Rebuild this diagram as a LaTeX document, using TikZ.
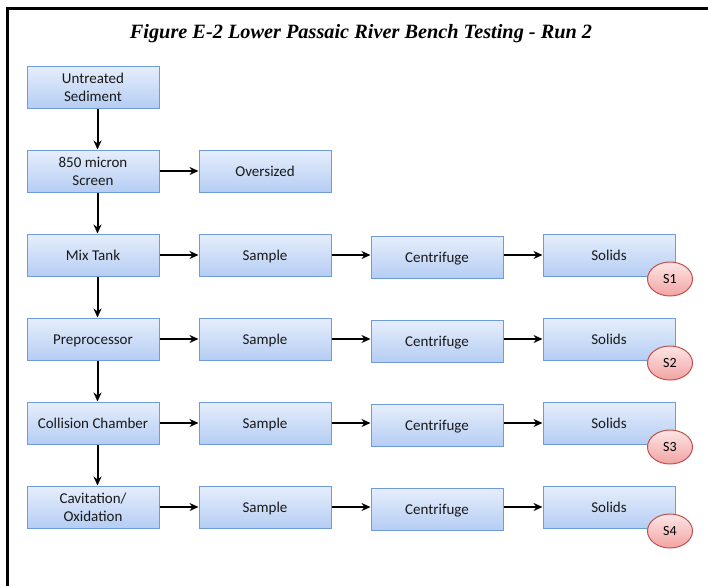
\documentclass[tikz,border=0pt]{standalone}
\usepackage{fontspec}
\setmainfont{Carlito}
\newfontfamily\titlefont{Liberation Serif}
\usetikzlibrary{arrows.meta,shapes.geometric}
\definecolor{boxtop}{HTML}{E6EEFC}
\definecolor{boxbot}{HTML}{B5CDF3}
\definecolor{boxline}{HTML}{6F9CD8}
\definecolor{elltop}{HTML}{FDE6E6}
\definecolor{ellbot}{HTML}{F2A3A3}
\definecolor{ellline}{HTML}{C0504D}
\tikzset{
  stepbox/.style={draw=boxline, line width=1pt, top color=boxtop, bottom color=boxbot,
    minimum width=132pt, minimum height=42pt, inner sep=0pt, align=center,
    font=\fontsize{15}{18}\selectfont, text=black!90, text height=11pt, text depth=0pt},
  twoline/.style={text height=, text depth=},
  tag/.style={ellipse, draw=ellline, line width=1pt, top color=elltop, bottom color=ellbot,
    minimum width=45pt, minimum height=34pt, inner sep=0pt, font=\fontsize{14}{16}\selectfont},
  arr/.style={-{Stealth[length=9pt,width=8pt]}, line width=2pt, black},
  frameline/.style={line width=3pt, black}
}
\begin{document}
\begin{tikzpicture}[x=1pt,y=-1pt]
\useasboundingbox (0,0) rectangle (708,586);
\draw[frameline] (7.5,586) -- (7.5,8.5) -- (708,8.5);
\node[font=\titlefont\fontsize{20.3}{24}\selectfont\bfseries\itshape] (title) at (361,34) {Figure E-2 Lower Passaic River Bench Testing - Run 2};

\node[stepbox,twoline] (u) at (93,87) {Untreated\\Sediment};
\node[stepbox,twoline] (scr) at (93,171) {850 micron\\Screen};
\node[stepbox] (ov) at (265,171) {Oversized};

\foreach \r/\name/\lbl/\st in {1/mix/Mix Tank/stepbox,2/pre/Preprocessor/stepbox,3/col/Collision Chamber/stepbox,4/cav/{Cavitation/\\Oxidation}/twoline}{
  \pgfmathsetmacro{\yy}{255+84*(\r-1)}
  \node[stepbox,\st] (\name) at (93,\yy) {\lbl};
  \node[stepbox] (sa\r) at (265,\yy) {Sample};
  \node[stepbox] (ce\r) at (437,\yy+2) {Centrifuge};
  \node[stepbox] (so\r) at (609,\yy) {Solids};
  \node[tag] (t\r) at (670,\yy+24) {S\r};
  \draw[arr] (\name.east) -- (sa\r.west);
  \draw[arr] (sa\r.east) -- (sa\r.east -| ce\r.west);
  \draw[arr] (ce\r.east |- so\r.east) -- (so\r.west);
}

\draw[arr] ([xshift=4.5pt]u.south) -- ([xshift=4.5pt]scr.north);
\draw[arr] (scr.east) -- (ov.west);
\draw[arr] ([xshift=4.5pt]scr.south) -- ([xshift=4.5pt]mix.north);
\draw[arr] ([xshift=4.5pt]mix.south) -- ([xshift=4.5pt]pre.north);
\draw[arr] ([xshift=4.5pt]pre.south) -- ([xshift=4.5pt]col.north);
\draw[arr] ([xshift=4.5pt]col.south) -- ([xshift=4.5pt]cav.north);
\end{tikzpicture}
\end{document}
